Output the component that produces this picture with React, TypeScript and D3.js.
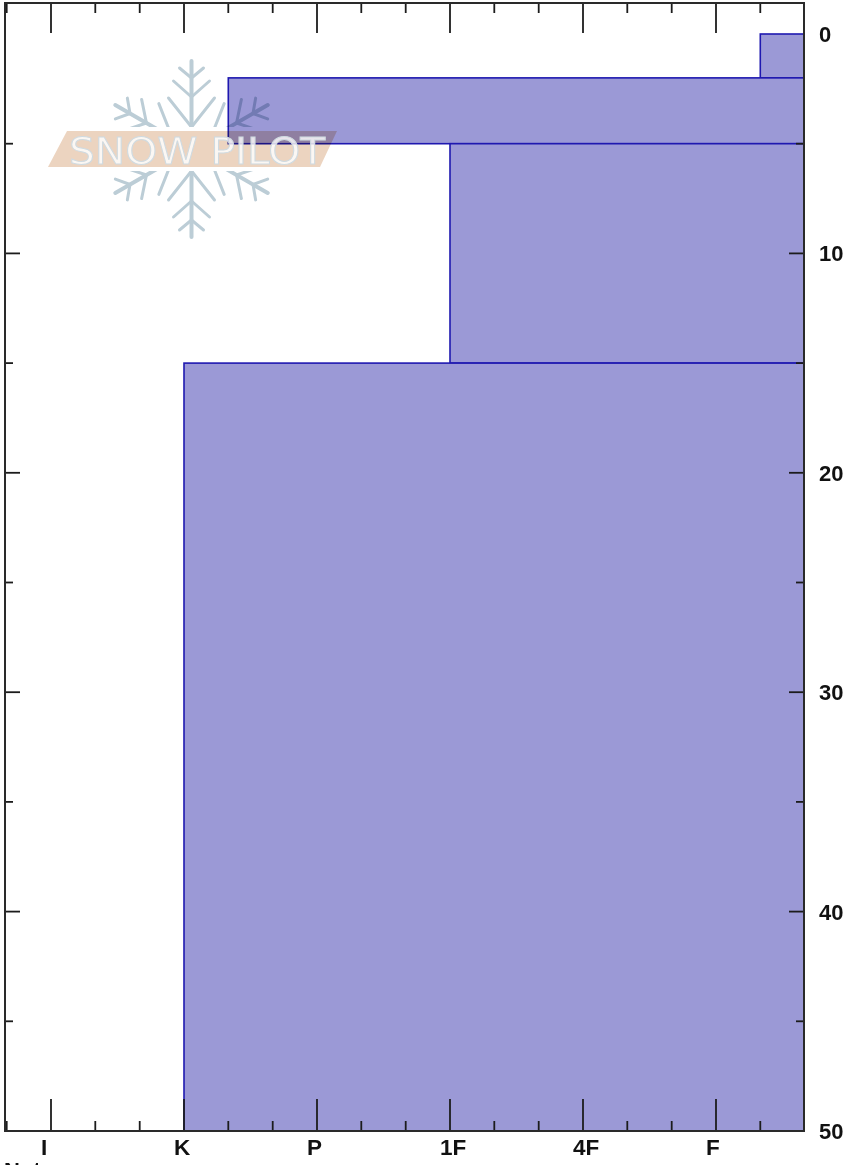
import React from "react";
import * as d3 from "d3";

const hardnessLabels = ["I", "K", "P", "1F", "4F", "F"];
const layerTops = [0, 2, 5, 15];
const layerBottoms = [2, 5, 15, 50];
const layerHardness = [5.333, 1.333, 3, 1];
const depthLabels = [0, 10, 20, 30, 40, 50];
const depthMinor = [5, 15, 25, 35, 45];
const depthMajor = [10, 20, 30, 40];
const hardnessMinor = [-0.333, 0.333, 0.667, 1.333, 1.667, 2.333, 2.667, 3.333, 3.667, 4.333, 4.667, 5.333];

const L = 5, R = 804, T = 3, B = 1131;
const x = d3.scaleLinear().domain([0, 5]).range([51, 716]);
const y = d3.scaleLinear().domain([0, 50]).range([34, 1131]);
const axis = "#1c1c1c";
const stemPath = "M0,0 L0,-88";
const branchPath = "M0,-71 L-12,-81 M0,-71 L12,-81 M0,-52 L-18,-68 M0,-52 L18,-68 M0,-22 L-23,-51 M0,-22 L23,-51";
const font = "'Liberation Sans', Arial, sans-serif";

export default function App() {
  const angles = d3.range(0, 360, 60);
  return (
    <svg width={854} height={1165} style={{ position: "absolute", left: 0, top: 0 }}>
      <defs>
        <clipPath id="flakeClip">
          <rect x={90} y={50} width={210} height={77} />
          <rect x={90} y={171} width={210} height={77} />
        </clipPath>
      </defs>
      <rect width={854} height={1165} fill="#fff" />
      {layerTops.map((t, i) => (
        <rect key={i} x={x(layerHardness[i])} y={y(t)} width={R - x(layerHardness[i])} height={y(layerBottoms[i]) - y(t)}
          fill="#9b99d6" stroke="#1f18b0" strokeWidth={1.6} />
      ))}
      <g clipPath="url(#flakeClip)" style={{ mixBlendMode: "multiply" }}>
        <g transform="translate(191.5,149)">
          {angles.map((a) => (
            <g key={a} transform={`rotate(${a})`} fill="none" stroke="#bccdd6" strokeLinecap="round">
              <path d={stemPath} strokeWidth={4} />
              <path d={branchPath} strokeWidth={3} />
            </g>
          ))}
        </g>
      </g>
      <polygon points="48,167 67,131 337,131 320,167" fill="#ecd4c0" style={{ mixBlendMode: "multiply" }} />
      <text x={69} y={164} textLength={256} lengthAdjust="spacingAndGlyphs" fontFamily="'DejaVu Sans', sans-serif" fontSize={38}
        fill="#ffffff" fillOpacity={0.8} stroke="#cfdae0" strokeWidth={1}>SNOW PILOT</text>

      {hardnessMinor.map((h) => (
        <g key={h} stroke={axis} strokeWidth={1.8}>
          <line x1={x(h)} x2={x(h)} y1={T} y2={T + 10} />
          <line x1={x(h)} x2={x(h)} y1={B} y2={B - 10} />
        </g>
      ))}
      {hardnessLabels.map((lab, i) => (
        <g key={lab}>
          <line x1={x(i)} x2={x(i)} y1={T} y2={T + 30} stroke={axis} strokeWidth={1.8} />
          <line x1={x(i)} x2={x(i)} y1={B} y2={B - 32} stroke={axis} strokeWidth={1.8} />
          <text x={x(i) - 10} y={1155} fontFamily={font} fontWeight="bold" fontSize={22.5} fill="#111">{lab}</text>
        </g>
      ))}
      {depthMinor.map((d) => (
        <g key={d} stroke={axis} strokeWidth={1.8}>
          <line x1={L} x2={L + 8} y1={y(d)} y2={y(d)} />
          <line x1={R} x2={R - 8} y1={y(d)} y2={y(d)} />
        </g>
      ))}
      {depthMajor.map((d) => (
        <g key={d} stroke={axis} strokeWidth={1.8}>
          <line x1={L} x2={L + 15} y1={y(d)} y2={y(d)} />
          <line x1={R} x2={R - 15} y1={y(d)} y2={y(d)} />
        </g>
      ))}
      <rect x={L} y={T} width={R - L} height={B - T} fill="none" stroke="#2a2a2a" strokeWidth={2} />
      {depthLabels.map((d) => (
        <text key={d} x={819} y={y(d) + 8} fontFamily={font} fontWeight="bold" fontSize={22} fill="#111">{d}</text>
      ))}
      <text x={4} y={1178} fontFamily={font} fontWeight="bold" fontSize={22} fill="#111">Notes</text>
    </svg>
  );
}
